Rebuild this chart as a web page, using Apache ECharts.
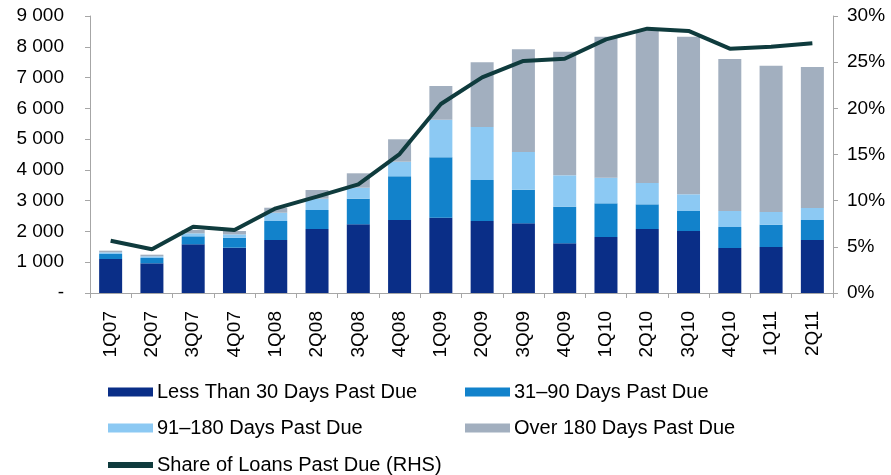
<!DOCTYPE html>
<html>
<head>
<meta charset="utf-8">
<script src="https://cdn.jsdelivr.net/npm/echarts@6/dist/echarts.min.js"></script>
<style>
  html, body { margin: 0; padding: 0; background: #fff; }
  #chart { width: 891px; height: 475px; }
</style>
</head>
<body>
<div id="chart"></div>
<script>
var quarters = ['1Q07','2Q07','3Q07','4Q07','1Q08','2Q08','3Q08','4Q08','1Q09',
                '2Q09','3Q09','4Q09','1Q10','2Q10','3Q10','4Q10','1Q11','2Q11'];

// amounts past due, stacked
var lessThan30 = [1105, 965, 1582, 1472, 1722, 2079, 2232, 2372, 2446, 2339, 2264, 1615, 1819, 2079, 2014, 1462, 1494, 1722];
var days31to90 = [162, 172, 260, 325, 617, 618, 832, 1419, 1963, 1332, 1092, 1189, 1095, 802, 650, 682, 725, 650];
var days91to180 = [55, 55, 98, 109, 270, 367, 357, 475, 1221, 1722, 1225, 1020, 832, 693, 543, 520, 413, 390];
var over180 = [53, 53, 107, 108, 162, 282, 468, 728, 1095, 2102, 3336, 4016, 4581, 4971, 5120, 4938, 4753, 4581];

// share of loans past due, % (RHS)
var sharePastDue = [5.66, 4.73, 7.18, 6.82, 9.17, 10.43, 11.77, 15.05, 20.47, 23.36, 25.13, 25.37, 27.47, 28.63, 28.38, 26.46, 26.68, 27.04];

var names = ['Less Than 30 Days Past Due', '31\u201390 Days Past Due', '91\u2013180 Days Past Due',
             'Over 180 Days Past Due', 'Share of Loans Past Due (RHS)'];
var colors = ['#0a2e87', '#1282cb', '#8cc9f3', '#a2afbf', '#0f3b3d'];

var font = "'Liberation Sans', Arial, sans-serif";
var axisGrey = '#a6a6a6';

function fmtThousands(v) {
    if (v === 0) return '-';
    return String(v).replace(/\B(?=(\d{3})+(?!\d))/g, ' ');
}

function legendAt(name, left, top, h) {
    return {
        data: [name],
        left: left,
        top: top,
        icon: 'rect',
        itemWidth: 45,
        itemHeight: h || 9,
        itemGap: 4,
        textStyle: { fontFamily: font, fontSize: 20, color: '#000', padding: [0, 0, 0, -1] }
    };
}

var myChart = echarts.init(document.getElementById('chart'));

var barData = [lessThan30, days31to90, days91to180, over180];
var series = barData.map(function (d, i) {
    return {
        name: names[i],
        type: 'bar',
        stack: 'due',
        barWidth: 23,
        itemStyle: { color: colors[i] },
        data: d
    };
});
series.push({
    name: names[4],
    type: 'line',
    yAxisIndex: 1,
    symbol: 'none',
    lineStyle: { color: colors[4], width: 4 },
    itemStyle: { color: colors[4] },
    data: sharePastDue,
    z: 5
});

var option = {
    animation: false,
    grid: { left: 90, right: 58, top: 16, bottom: 182 },
    legend: [
        legendAt(names[0], 103, 377),
        legendAt(names[1], 460, 377),
        legendAt(names[2], 103, 413),
        legendAt(names[3], 460, 413),
        legendAt(names[4], 103, 450, 6)
    ],
    xAxis: {
        type: 'category',
        data: quarters,
        axisLine: { lineStyle: { color: axisGrey } },
        axisTick: { show: true, length: 5, lineStyle: { color: axisGrey } },
        axisLabel: {
            rotate: 90,
            margin: 18,
            fontFamily: font,
            fontSize: 19,
            color: '#000'
        }
    },
    yAxis: [
        {
            type: 'value',
            min: 0,
            max: 9000,
            interval: 1000,
            splitLine: { show: false },
            axisLine: { show: true, lineStyle: { color: axisGrey } },
            axisTick: { show: true, length: 5, lineStyle: { color: axisGrey } },
            axisLabel: {
                formatter: fmtThousands,
                margin: 26,
                fontFamily: font,
                fontSize: 19,
                color: '#000'
            }
        },
        {
            type: 'value',
            min: 0,
            max: 30,
            interval: 5,
            splitLine: { show: false },
            axisLine: { show: true, lineStyle: { color: axisGrey } },
            axisTick: { show: true, length: 5, lineStyle: { color: axisGrey } },
            axisLabel: {
                formatter: '{value}%',
                margin: 14,
                fontFamily: font,
                fontSize: 19,
                color: '#000'
            }
        }
    ],
    series: series
};

myChart.setOption(option);
</script>
</body>
</html>
